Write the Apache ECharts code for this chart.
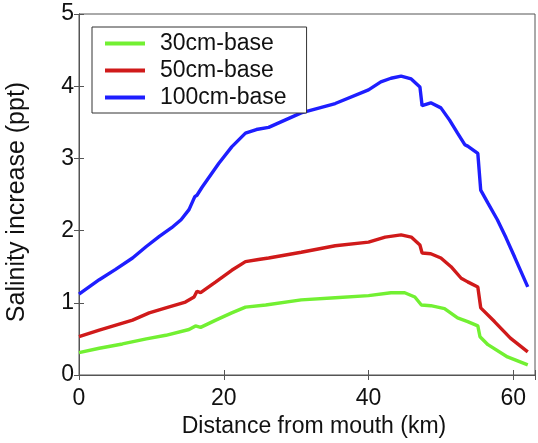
<!DOCTYPE html>
<html>
<head>
<meta charset="utf-8">
<script src="https://cdn.jsdelivr.net/npm/echarts@6/dist/echarts.min.js"></script>
<style>
  html, body { margin: 0; padding: 0; background: #fff; }
  #chart { width: 538px; height: 443px; }
</style>
</head>
<body>
<div id="chart"></div>
<script>
// distance from mouth (km) and salinity increase (ppt)
var seriesNames = ['30cm-base', '50cm-base', '100cm-base'];

var x30 = [0, 2.8, 6, 9.3, 12, 15.2, 16.1, 16.8, 18.9, 21.1, 23, 25.8, 30.7, 35.4, 40, 43.1, 45, 46.4, 47.3, 48.6, 50.5, 52.3, 53.7, 55.1, 55.4, 56.5, 59.2, 62];
var y30 = [0.31, 0.37, 0.43, 0.5, 0.55, 0.63, 0.68, 0.66, 0.76, 0.86, 0.94, 0.97, 1.04, 1.07, 1.1, 1.14, 1.14, 1.08, 0.97, 0.96, 0.92, 0.79, 0.74, 0.68, 0.53, 0.42, 0.25, 0.14];

var x50 = [0, 2.8, 7.4, 9.7, 12, 14.7, 15.9, 16.3, 16.8, 18.9, 21.1, 23, 24.8, 26.2, 30.7, 35.4, 40, 42.3, 44.5, 45.9, 47.1, 47.4, 48.6, 50, 51.4, 52.8, 53.7, 55.1, 55.5, 57.4, 59.6, 62];
var y50 = [0.53, 0.62, 0.76, 0.86, 0.93, 1.01, 1.08, 1.16, 1.14, 1.29, 1.45, 1.57, 1.6, 1.62, 1.7, 1.79, 1.84, 1.91, 1.94, 1.91, 1.8, 1.69, 1.68, 1.62, 1.5, 1.34, 1.29, 1.22, 0.93, 0.74, 0.51, 0.32];

var x100 = [0, 2.8, 5, 7.4, 9.3, 11.1, 12.8, 14.1, 15.2, 16, 16.3, 17, 19.3, 21.1, 23, 24.5, 26.2, 30.7, 35.4, 40, 41.7, 43.1, 44.5, 45.9, 47.1, 47.4, 48.6, 50, 51.2, 52.3, 53.3, 53.7, 55.1, 55.5, 56.5, 57.8, 59, 60.2, 62];
var y100 = [1.12, 1.32, 1.46, 1.62, 1.78, 1.92, 2.04, 2.15, 2.29, 2.47, 2.49, 2.6, 2.93, 3.16, 3.35, 3.4, 3.43, 3.63, 3.76, 3.95, 4.06, 4.11, 4.14, 4.1, 3.99, 3.73, 3.77, 3.7, 3.53, 3.35, 3.19, 3.17, 3.07, 2.56, 2.38, 2.15, 1.9, 1.63, 1.22];

var xTicks = [0, 20, 40, 60];
var colors = ['#72f032', '#d01a1a', '#1e1eff'];

function pairs(xs, ys) {
  var out = [];
  for (var i = 0; i < xs.length; i++) out.push([xs[i], ys[i]]);
  return out;
}

var fontFam = 'Liberation Sans, Arial, sans-serif';
var axisCol = '#555';
var myChart = echarts.init(document.getElementById('chart'));

var lineSeries = [pairs(x30, y30), pairs(x50, y50), pairs(x100, y100)].map(function (d, i) {
  return {
    name: seriesNames[i],
    type: 'line',
    data: d,
    symbol: 'none',
    lineStyle: { color: colors[i], width: 3.4 },
    itemStyle: { color: colors[i] }
  };
});
// invisible series so the top/right box axes get drawn
lineSeries.push({
  type: 'line', data: [[0, 0]], xAxisIndex: 1, yAxisIndex: 1,
  symbol: 'none', silent: true, lineStyle: { opacity: 0 }
});

var tickStyle = { show: true, inside: true, length: 5, lineStyle: { color: axisCol } };

var option = {
  animation: false,
  backgroundColor: '#fff',
  grid: { left: 79, right: 1, top: 14, bottom: 68, show: true, borderColor: axisCol, borderWidth: 1 },
  legend: {
    orient: 'vertical',
    left: 92,
    top: 27,
    padding: [5, 20, 4, 13],
    itemGap: 4,
    itemWidth: 40,
    itemHeight: 4,
    icon: 'rect',
    borderColor: '#333',
    borderWidth: 1,
    borderRadius: 0,
    backgroundColor: '#fff',
    textStyle: { fontFamily: fontFam, fontSize: 23, color: '#111', padding: [0, 0, 0, 10] },
    data: seriesNames
  },
  graphic: [{
    type: 'text',
    x: 17,
    y: 202,
    rotation: Math.PI / 2,
    style: {
      text: 'Salinity increase (ppt)',
      font: '25px ' + fontFam,
      fill: '#111',
      textAlign: 'center',
      textVerticalAlign: 'middle'
    }
  }],
  xAxis: [{
    type: 'value',
    min: 0, max: 63, interval: 20,
    name: 'Distance from mouth (km)',
    nameLocation: 'middle',
    nameGap: 37,
    nameTextStyle: { fontFamily: fontFam, fontSize: 23, color: '#111', padding: [0, 0, 0, 14] },
    axisLine: { lineStyle: { color: axisCol } },
    axisTick: tickStyle,
    axisLabel: {
      fontFamily: fontFam, fontSize: 23, color: '#111', margin: 12,
      formatter: function (v) { return xTicks.indexOf(v) >= 0 ? String(v) : ''; }
    },
    splitLine: { show: false }
  }, {
    type: 'value',
    position: 'top',
    min: 0, max: 63, interval: 20,
    axisLine: { show: true, lineStyle: { color: axisCol } },
    axisTick: tickStyle,
    axisLabel: { show: false },
    splitLine: { show: false }
  }],
  yAxis: [{
    type: 'value',
    min: 0, max: 5, interval: 1,
    axisLine: { show: true, lineStyle: { color: axisCol } },
    axisTick: tickStyle,
    axisLabel: { fontFamily: fontFam, fontSize: 23, color: '#111', margin: 5 },
    splitLine: { show: false }
  }, {
    type: 'value',
    position: 'right',
    min: 0, max: 5, interval: 1,
    axisLine: { show: true, lineStyle: { color: axisCol } },
    axisTick: tickStyle,
    axisLabel: { show: false },
    splitLine: { show: false }
  }],
  series: lineSeries
};

myChart.setOption(option);
</script>
</body>
</html>
